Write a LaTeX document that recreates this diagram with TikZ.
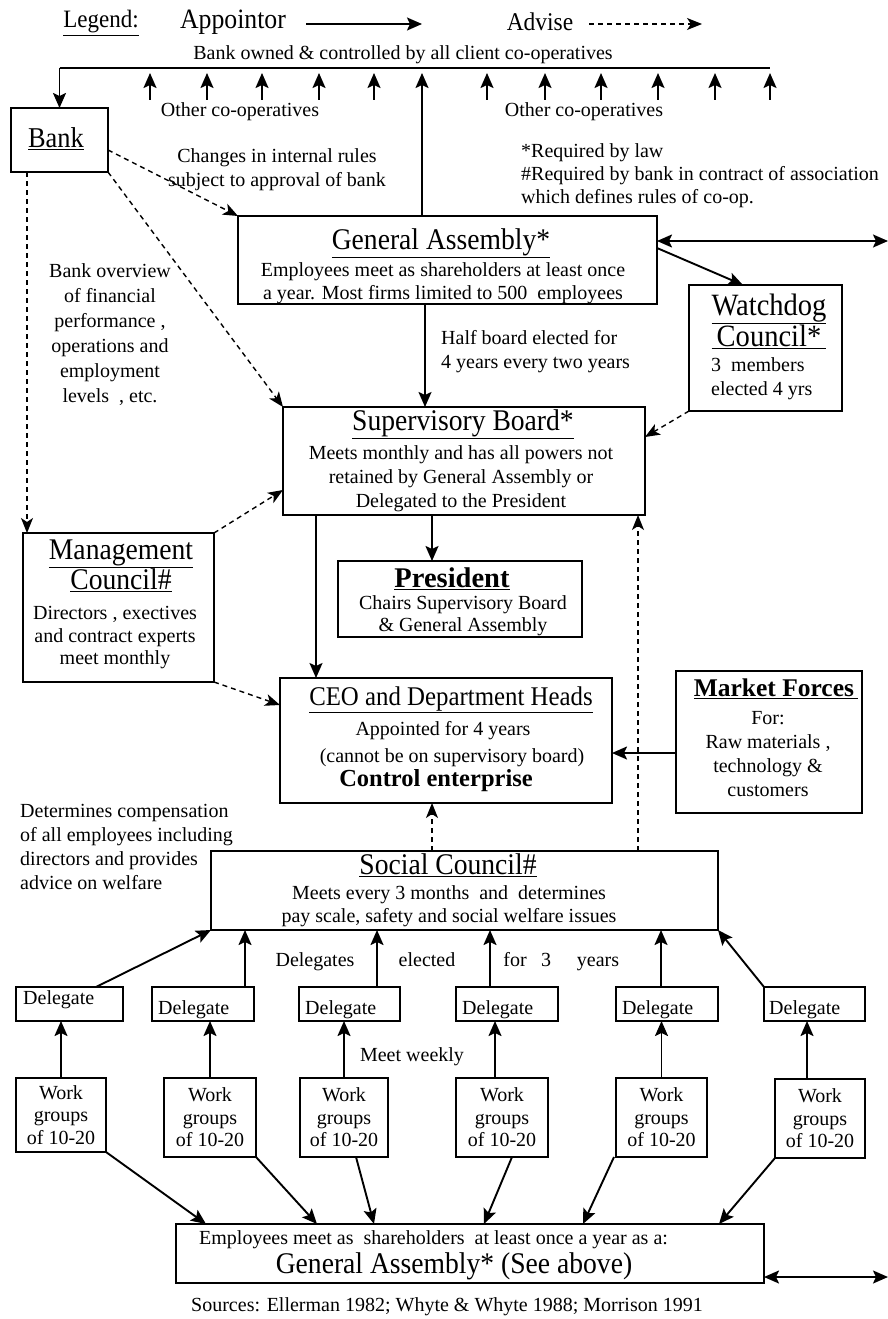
\documentclass[tikz,border=0pt]{standalone}
\usepackage{fontspec}
\setmainfont{Liberation Serif}
\newfontfamily\ttlfont[FakeStretch=0.92]{Liberation Serif}
\usetikzlibrary{arrows.meta,calc}

\begin{document}
\begin{tikzpicture}[x=1pt,y=-1pt,
  pbox/.style={draw, line width=1.9pt, inner sep=0pt, outer sep=0pt},
  txt/.style={inner sep=0pt, align=center, font=\fontsize{20}{24}\selectfont},
  ttl/.style={inner sep=0pt, align=center, font=\ttlfont\fontsize{30}{30}\selectfont},
  bld/.style={inner sep=0pt, align=center, font=\bfseries\fontsize{24.5}{26}\selectfont},
  app/.style={line width=1.9pt, -{Stealth[length=15pt,width=13pt,inset=3pt]}},
  adv/.style={line width=1.4pt, dash pattern=on 5pt off 4pt, -{Stealth[length=15pt,width=12pt,inset=4pt]}},
  both/.style={line width=1.9pt, {Stealth[length=15pt,width=13pt,inset=3pt]}-{Stealth[length=15pt,width=13pt,inset=3pt]}},
]
\useasboundingbox (0,0) rectangle (888,1319);

% ---------- legend ----------
\node[ttl, font=\ttlfont\fontsize{25}{26}\selectfont] (legend) at (101,23) {\underline{Legend:}};
\node[ttl, font=\ttlfont\fontsize{28}{28}\selectfont] (appointor) at (233,22) {Appointor};
\node[ttl, font=\ttlfont\fontsize{25.5}{26}\selectfont] (advise) at (540,22) {Advise};
\coordinate (la1) at (306,24); \coordinate (la2) at (422,24);
\coordinate (ld1) at (589,24); \coordinate (ld2) at (702,24);
\draw[app] (la1) -- (la2);
\draw[adv] (ld1) -- (ld2);

% ---------- bank ownership line ----------
\node[txt] (owned) at (403,55) {Bank owned \& controlled by all client co-operatives};
\coordinate (topL) at (59.5,68); \coordinate (topR) at (770,68);
\draw[line width=1.9pt] (topL) -- (topR);
\foreach \i/\x in {1/150,2/207,3/262,4/319,5/374,6/487,7/545,8/601,9/658,10/715,11/770}{
  \coordinate (cb\i) at (\x,100);
  \draw[app] (cb\i) -- ($(cb\i |- topL)+(0,5)$);
}
\node[txt] (other1) at (240,112) {Other co-operatives};
\node[txt] (other2) at (584,112) {Other co-operatives};

% ---------- boxes ----------
\node[pbox, minimum width=97, minimum height=64] (bank) at (59.5,140) {};
\node[pbox, minimum width=419, minimum height=88] (ga) at (447.5,260) {};
\node[pbox, minimum width=153, minimum height=126] (wd) at (765.5,348) {};
\node[pbox, minimum width=362, minimum height=108] (sup) at (464,461) {};
\node[pbox, minimum width=191, minimum height=149] (mgmt) at (118.5,607.5) {};
\node[pbox, minimum width=244, minimum height=76] (pres) at (460,599) {};
\node[pbox, minimum width=332, minimum height=125] (ceo) at (446,740.5) {};
\node[pbox, minimum width=186, minimum height=142] (mkt) at (769,742) {};
\node[pbox, minimum width=507, minimum height=79] (soc) at (464.5,890.5) {};
\node[pbox, minimum width=588, minimum height=59] (bot) at (470,1253.5) {};

\foreach \n/\x/\w in {1/69.5/107,2/203/102,3/349.5/101,4/507/102,5/667/102,6/814.5/101}{
  \node[pbox, minimum width=\w, minimum height=34] (d\n) at (\x,1004) {};
}
\node[pbox, minimum width=90, minimum height=74] (wg1) at (61,1115) {};
\node[pbox, minimum width=92, minimum height=79] (wg2) at (210,1117.5) {};
\node[pbox, minimum width=88, minimum height=79] (wg3) at (344,1117.5) {};
\node[pbox, minimum width=92, minimum height=79] (wg4) at (502,1117.5) {};
\node[pbox, minimum width=91, minimum height=79] (wg5) at (661.5,1117.5) {};
\node[pbox, minimum width=90, minimum height=79] (wg6) at (820,1118.5) {};

% ---------- box texts ----------
\node[ttl, font=\ttlfont\fontsize{28.7}{30}\selectfont] (banklbl) at (56,139) {\underline{Bank}};
\node[txt] (changes) at (277,170) {Changes in internal rules\\subject to approval of bank};
\node[txt, align=left, anchor=west, font=\fontsize{20}{23}\selectfont] (req) at (521,176) {*Required by law\\\#Required by bank in contract of association\\which defines rules of co-op.};

\node[ttl] (gattl) at (441,243) {\underline{General Assembly*}};
\node[txt, font=\fontsize{20}{22.5}\selectfont] (gabody) at (443,283) {Employees meet as shareholders at least once\\a year. Most firms limited to 500\ \ employees};

\node[ttl, font=\ttlfont\fontsize{31}{30}\selectfont] (wdttl) at (769,321) {\underline{Watchdog}\\\underline{\,Council*\,}};
\node[txt, align=left, anchor=west] (wdbody) at (711,379) {3\ \ members\\elected 4 yrs};

\node[txt, align=left, anchor=west] (half) at (441,352) {Half board elected for\\4 years every two years};
\node[txt, font=\fontsize{20}{25}\selectfont] (overview) at (110,335) {Bank overview\\of financial\\performance ,\\operations and\\employment\\levels\ \ , etc.};

\node[ttl] (supttl) at (463,424) {\underline{Supervisory Board*}};
\node[txt] (supbody) at (461,479) {Meets monthly and has all powers not\\retained by General Assembly or\\Delegated to the President};

\node[ttl] (mgmtttl) at (121,566) {\underline{Management}\\\underline{Council\#}};
\node[txt, font=\fontsize{20}{22.5}\selectfont] (mgmtbody) at (115,638) {Directors , exectives\\and contract experts\\meet monthly};

\node[bld, font=\bfseries\fontsize{28.5}{28}\selectfont] (presttl) at (452,579) {\underline{President}};
\node[txt, font=\fontsize{20}{22}\selectfont] (presbody) at (463,616) {Chairs Supervisory Board\\\& General Assembly};

\node[ttl, font=\ttlfont\fontsize{27}{30}\selectfont] (ceottl) at (451,700) {\underline{CEO and Department Heads}};
\node[txt] (ceo1) at (443,731) {Appointed for 4 years};
\node[txt] (ceo2) at (452,758) {(cannot be on supervisory board)};
\node[bld] (ceo3) at (436,781) {Control enterprise};

\node[bld, font=\bfseries\fontsize{25.5}{26}\selectfont] (mktttl) at (776,689) {\underline{Market Forces\,}};
\node[txt] (mktbody) at (768,754) {For:\\Raw materials ,\\technology \&\\customers};

\node[txt, align=left, anchor=west] (determ) at (20,847) {Determines compensation\\of all employees including\\directors and provides\\advice on welfare};

\node[ttl] (socttl) at (448,865) {\underline{Social Council\#}};
\node[txt, font=\fontsize{20}{23}\selectfont] (socbody) at (449,906) {Meets every 3 months\ \ and\ \ determines\\pay scale, safety and social welfare issues};

\node[txt, anchor=base] (w1) at (315,966) {Delegates};
\node[txt, anchor=base] (w2) at (427,966) {elected};
\node[txt, anchor=base] (w3) at (515,966) {for};
\node[txt, anchor=base] (w4) at (546,966) {3};
\node[txt, anchor=base] (w5) at (598,966) {years};

\node[txt, anchor=west] (dt1) at (23,1000) {Delegate};
\foreach \n/\x in {2/158,3/305,4/462,5/622,6/769}{
  \node[txt, anchor=west] (dt\n) at (\x,1010) {Delegate};
}
\node[txt] (weekly) at (412,1057) {Meet weekly};

\foreach \n in {1,2,3,4,5,6}{
  \node[txt, font=\fontsize{20}{22.5}\selectfont] (wgt\n) at (wg\n) {Work\\groups\\of 10-20};
}

\node[txt, anchor=west] (bot1) at (199,1240) {Employees meet as\ \ shareholders\ \ at least once a year as a:};
\node[ttl] (bot2) at (454,1266) {General Assembly* (See above)};
\node[txt] (sources) at (447,1307) {Sources: Ellerman 1982; Whyte \& Whyte 1988; Morrison 1991};

% ---------- connectors ----------
\draw[app] (topL) -- (bank.north);
\coordinate (gaup) at ([xshift=-25.5]ga.north);
\draw[app] (gaup) -- ($(gaup |- topL)+(0,5)$);

\draw[adv] ([yshift=-10]bank.east) -- (ga.north west);
\draw[adv] (bank.south east) -- (sup.north west);
\coordinate (bkdown) at ([xshift=16]bank.south west);
\draw[adv] (bkdown) -- (bkdown |- mgmt.north);

\coordinate (gaR) at (888,241);
\draw[both] ([yshift=19]ga.east) -- (gaR);
\draw[app] ([yshift=12]ga.east) -- ([xshift=-22.5]wd.north);
\draw[adv] (wd.south west) -- ([yshift=24]sup.east);

\coordinate (gadown) at ([xshift=-22.5]ga.south);
\draw[app] (gadown) -- (gadown |- sup.north);

\draw[adv] (mgmt.north east) -- ([yshift=-29]sup.west);
\coordinate (suppres) at ([xshift=-32]sup.south);
\draw[app] (suppres) -- (suppres |- pres.north);
\coordinate (supceo) at ([xshift=-148]sup.south);
\draw[app] (supceo) -- (supceo |- ceo.north);
\draw[adv] (mgmt.south east) -- ([yshift=35.5]ceo.west);

\coordinate (mktout) at ([yshift=-11]mkt.west);
\draw[app] (mktout) -- (mktout -| ceo.east);

\coordinate (socsup) at ([xshift=173.5]soc.north);
\draw[adv] (socsup) -- (socsup |- sup.south);
\coordinate (socceo) at ([xshift=-32.5]soc.north);
\draw[adv] (socceo) -- (socceo |- ceo.south);

% delegates up to the social council
\draw[app] ([xshift=26.5]d1.north) -- (soc.south west);
\coordinate (dd2) at ([xshift=42]d2.north);
\draw[app] (dd2) -- (dd2 |- soc.south);
\coordinate (dd3) at ([xshift=27.5]d3.north);
\draw[app] (dd3) -- (dd3 |- soc.south);
\coordinate (dd4) at ([xshift=-17]d4.north);
\draw[app] (dd4) -- (dd4 |- soc.south);
\coordinate (dd5) at ([xshift=-6]d5.north);
\draw[app] (dd5) -- (dd5 |- soc.south);
\draw[app] (d6.north west) -- (soc.south east);

% work groups up to their delegates
\draw[app] (wg1.north) -- (wg1.north |- d1.south);
\draw[app] (wg2.north) -- (wg2.north |- d2.south);
\draw[app] (wg3.north) -- (wg3.north |- d3.south);
\coordinate (gw4) at ([xshift=-7]wg4.north);
\draw[app] (gw4) -- (gw4 |- d4.south);
\draw[app] (wg5.north) -- (wg5.north |- d5.south);
\coordinate (gw6) at ([xshift=-13]wg6.north);
\draw[app] (gw6) -- (gw6 |- d6.south);

% work groups down to the general assembly
\draw[app] (wg1.south east) -- ([xshift=30]bot.north west);
\draw[app] (wg2.south east) -- ([xshift=141]bot.north west);
\draw[app] ([xshift=12]wg3.south) -- ([xshift=198]bot.north west);
\draw[app] ([xshift=10]wg4.south) -- ([xshift=308]bot.north west);
\draw[app] ([xshift=-47.5]wg5.south) -- ([xshift=407]bot.north west);
\draw[app] (wg6.south west) -- ([xshift=543]bot.north west);

\coordinate (botR) at (888,1277);
\draw[both] ([yshift=-23.5]bot.east) -- (botR);
\end{tikzpicture}
\end{document}
